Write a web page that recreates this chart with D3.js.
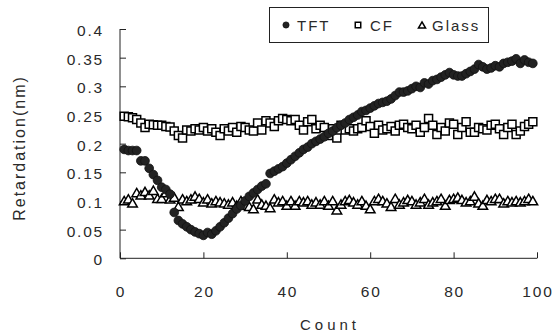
<!DOCTYPE html>
<html>
<head>
<meta charset="utf-8">
<script src="https://cdn.jsdelivr.net/npm/d3@7"></script>
<style>
  html, body { margin: 0; padding: 0; background: #fff; }
  svg text { font-family: "Liberation Sans", Arial, sans-serif; fill: #2a2a2a; }
</style>
</head>
<body>
<div id="chart"></div>
<script>
// values, one per count (1..99)
const tft = [
  .190, .188, .188, .188, .170, .170, .157, .146, .136, .124,
  .120, .112, .080, .066, .060, .055, .050, .046, .043, .040,
  .045, .042, .048, .055, .062, .070, .078, .086, .092, .100,
  .108, .114, .120, .126, .130, .148, .152, .156, .160, .166,
  .172, .178, .184, .190, .194, .200, .204, .208, .212, .218,
  .222, .228, .232, .236, .242, .246, .250, .256, .258, .262,
  .266, .270, .272, .274, .278, .284, .290, .290, .292, .296,
  .300, .298, .306, .304, .310, .312, .316, .320, .324, .320,
  .318, .318, .322, .326, .330, .338, .334, .330, .332, .336,
  .334, .340, .342, .344, .348, .340, .346, .342, .340
];
const cf = [
  .248, .247, .245, .242, .236, .228, .234, .233, .232, .232,
  .230, .229, .222, .214, .210, .224, .222, .226, .224, .228,
  .222, .226, .220, .214, .226, .222, .228, .220, .230, .228,
  .224, .222, .236, .224, .240, .236, .230, .240, .244, .242,
  .240, .242, .232, .224, .238, .242, .226, .232, .228, .214,
  .226, .210, .232, .224, .226, .222, .226, .228, .240, .230,
  .218, .232, .224, .226, .230, .222, .232, .234, .228, .226,
  .232, .220, .228, .244, .232, .216, .228, .222, .236, .234,
  .216, .228, .238, .220, .220, .228, .226, .224, .232, .234,
  .226, .216, .228, .234, .216, .222, .230, .234, .238
];
const glass = [
  .100, .103, .096, .114, .110, .116, .110, .118, .104, .104,
  .114, .103, .106, .090, .103, .100, .103, .108, .104, .098,
  .103, .096, .100, .098, .096, .094, .098, .092, .100, .092,
  .090, .086, .103, .094, .092, .088, .103, .098, .100, .092,
  .100, .092, .100, .098, .100, .094, .098, .094, .100, .092,
  .100, .084, .094, .100, .102, .098, .094, .100, .092, .086,
  .100, .104, .100, .096, .090, .104, .094, .098, .102, .100,
  .094, .098, .104, .094, .098, .100, .104, .092, .102, .104,
  .106, .102, .098, .100, .108, .096, .092, .102, .100, .104,
  .104, .096, .100, .098, .100, .098, .100, .104, .100
];
const xTicks = [0, 20, 40, 60, 80, 100];
const yTicks = [0, 0.05, 0.1, 0.15, 0.2, 0.25, 0.3, 0.35, 0.4];
const seriesNames = ["TFT", "CF", "Glass"];

const width = 554, height = 335;
const x = d3.scaleLinear().domain([0, 100]).range([120, 537]);
const y = d3.scaleLinear().domain([0, 0.4]).range([258.3, 29]);

const svg = d3.select("#chart").append("svg")
  .attr("width", width)
  .attr("height", height);

// symbols
const circleSym = d3.symbol().type(d3.symbolCircle);
const squareSym = d3.symbol().type(d3.symbolSquare);
const triSym = d3.symbol().type(d3.symbolTriangle);

function drawMarker(g, kind, big) {
  if (kind === "TFT") {
    g.append("path").attr("d", circleSym.size(big ? 60 : 30)())
      .attr("fill", "#222").attr("stroke", "#111").attr("stroke-width", 0.8);
  } else if (kind === "CF") {
    g.append("path").attr("d", squareSym.size(big ? 64 : 30)())
      .attr("fill", "#fff").attr("stroke", "#000").attr("stroke-width", 1.5);
  } else {
    g.append("path").attr("d", triSym.size(big ? 40 : 22)())
      .attr("transform", "translate(0,1)")
      .attr("fill", "#fff").attr("stroke", "#000").attr("stroke-width", 1.5);
  }
}

// axes
const xAxis = d3.axisBottom(x).tickValues(xTicks).tickSize(-6).tickFormat("");
const yAxis = d3.axisLeft(y).tickValues(yTicks).tickSize(-6).tickFormat("");

svg.append("g")
  .attr("transform", "translate(0," + y(0) + ")")
  .call(xAxis)
  .call(g => g.select(".domain").attr("d", "M" + x(0) + ",0H" + x(100)).attr("stroke", "#222"))
  .call(g => g.selectAll(".tick line").attr("stroke", "#222"));

svg.append("g")
  .attr("transform", "translate(" + x(0) + ",0)")
  .call(yAxis)
  .call(g => g.select(".domain").attr("d", "M0," + y(0.4) + "V" + y(0)).attr("stroke", "#222"))
  .call(g => g.selectAll(".tick line").attr("stroke", "#222"));

// tick labels
svg.append("g").selectAll("text")
  .data(xTicks)
  .enter().append("text")
    .attr("x", d => x(d) + 1)
    .attr("y", 296.5)
    .attr("text-anchor", "middle")
    .style("font-size", "15.5px")
    .style("letter-spacing", "1.8px")
    .text(d => d);

svg.append("g").selectAll("text")
  .data(yTicks)
  .enter().append("text")
    .attr("x", 104)
    .attr("y", d => y(d))
    .attr("dy", "0.45em")
    .attr("text-anchor", "end")
    .style("font-size", "15.5px")
    .style("letter-spacing", "1.8px")
    .text(d => d3.format("")(+d.toFixed(2)));

// axis titles
svg.append("text")
  .attr("x", 330)
  .attr("y", 329.5)
  .attr("text-anchor", "middle")
  .style("font-size", "15px")
  .style("letter-spacing", "4px")
  .text("Count");

svg.append("text")
  .attr("transform", "translate(25,148) rotate(-90)")
  .attr("text-anchor", "middle")
  .style("font-size", "16px")
  .style("letter-spacing", "2px")
  .text("Retardation(nm)");

// data
const allSeries = [["Glass", glass], ["CF", cf], ["TFT", tft]];
allSeries.forEach(([name, values]) => {
  svg.append("g").attr("class", "series-" + name)
    .selectAll("g")
    .data(values)
    .enter().append("g")
      .attr("transform", (d, i) => "translate(" + x(i + 1) + "," + y(d) + ")")
      .each(function() { drawMarker(d3.select(this), name, true); });
});

// legend
const legend = svg.append("g");
legend.append("rect")
  .attr("x", 269.5).attr("y", 7.5)
  .attr("width", 219).attr("height", 35)
  .attr("fill", "#fff").attr("stroke", "#222").attr("stroke-width", 1);

const legendItems = [
  { name: "TFT", mx: 286, tx: 297 },
  { name: "CF", mx: 358, tx: 370 },
  { name: "Glass", mx: 422, tx: 432 }
];
legendItems.forEach(it => {
  const g = legend.append("g").attr("transform", "translate(" + it.mx + ",25)");
  drawMarker(g, it.name, false);
  legend.append("text")
    .attr("x", it.tx).attr("y", 30.5)
    .style("font-size", "15px")
    .style("letter-spacing", "2px")
    .text(it.name);
});
</script>
</body>
</html>
